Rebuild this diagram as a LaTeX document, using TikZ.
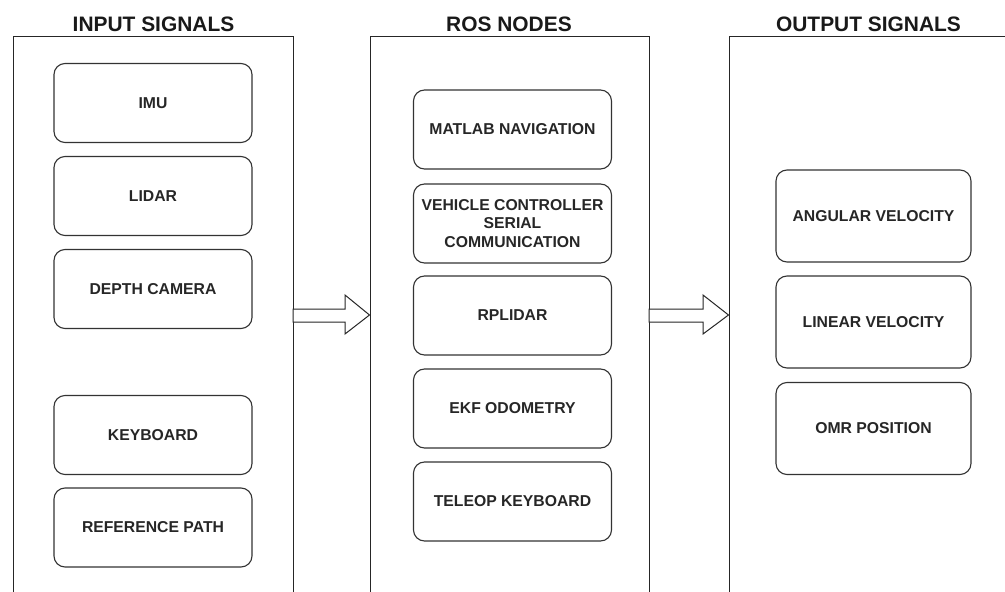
\documentclass[tikz,border=0pt]{standalone}
\usepackage{fontspec}
\setmainfont{Liberation Sans}
\begin{document}
\begin{tikzpicture}[x=1bp,y=-1bp,
  panel/.style={draw=black!85, line width=1bp, minimum width=279bp, minimum height=563bp, inner sep=0pt},
  item/.style={draw=black!80, line width=1.1bp, rounded corners=11bp, minimum width=198bp, minimum height=79bp,
    align=center, inner sep=0pt, text=black!85, font=\fontsize{15.8}{18.5}\selectfont\bfseries},
  outitem/.style={item, minimum width=195bp, minimum height=92bp},
  head/.style={anchor=base, text=black!90, font=\fontsize{21}{24}\selectfont\bfseries},
  blockarrow/.style={draw=black!85, line width=1bp, fill=white, line join=miter}
]
\useasboundingbox (0,0) rectangle (1005,592);
\clip (0,0) rectangle (1005,592);

% panels
\node[panel] (pin)  at (153.5,318.5) {};
\node[panel] (pros) at (509.5,318.5) {};
\node[panel] (pout) at (868.5,318.5) {};

% headers
\node[head] (hin)  at (153.5,32) {INPUT SIGNALS};
\node[head] (hros) at (509,32) {ROS NODES};
\node[head] (hout) at (868.5,32) {OUTPUT SIGNALS};

% input items
\node[item] (imu)  at (153,103)   {IMU};
\node[item] (lid)  at (153,196)   {LIDAR};
\node[item] (dep)  at (153,289)   {DEPTH CAMERA};
\node[item] (key)  at (153,435)   {KEYBOARD};
\node[item] (ref)  at (153,527.5) {REFERENCE PATH};

% ros nodes
\node[item] (mat)  at (512.5,129.5) {MATLAB NAVIGATION};
\node[item] (veh)  at (512.5,223.5) {VEHICLE CONTROLLER\\SERIAL\\COMMUNICATION};
\node[item] (rpl)  at (512.5,315.5) {RPLIDAR};
\node[item] (ekf)  at (512.5,408.5) {EKF ODOMETRY};
\node[item] (tel)  at (512.5,501.5) {TELEOP KEYBOARD};

% outputs
\node[outitem] (ang) at (873.5,216)   {ANGULAR VELOCITY};
\node[outitem] (lin) at (873.5,322)   {LINEAR VELOCITY};
\node[outitem] (omr) at (873.5,428.5) {OMR POSITION};

% block arrows
\draw[blockarrow] (293,309) -- (345,309) -- (345,295) -- (pros.west |- 0,315) -- (345,334) -- (345,322) -- (293,322) -- cycle;
\draw[blockarrow] (649,309) -- (703,309) -- (703,295) -- (pout.west |- 0,315) -- (703,334) -- (703,322) -- (649,322) -- cycle;
\end{tikzpicture}
\end{document}
